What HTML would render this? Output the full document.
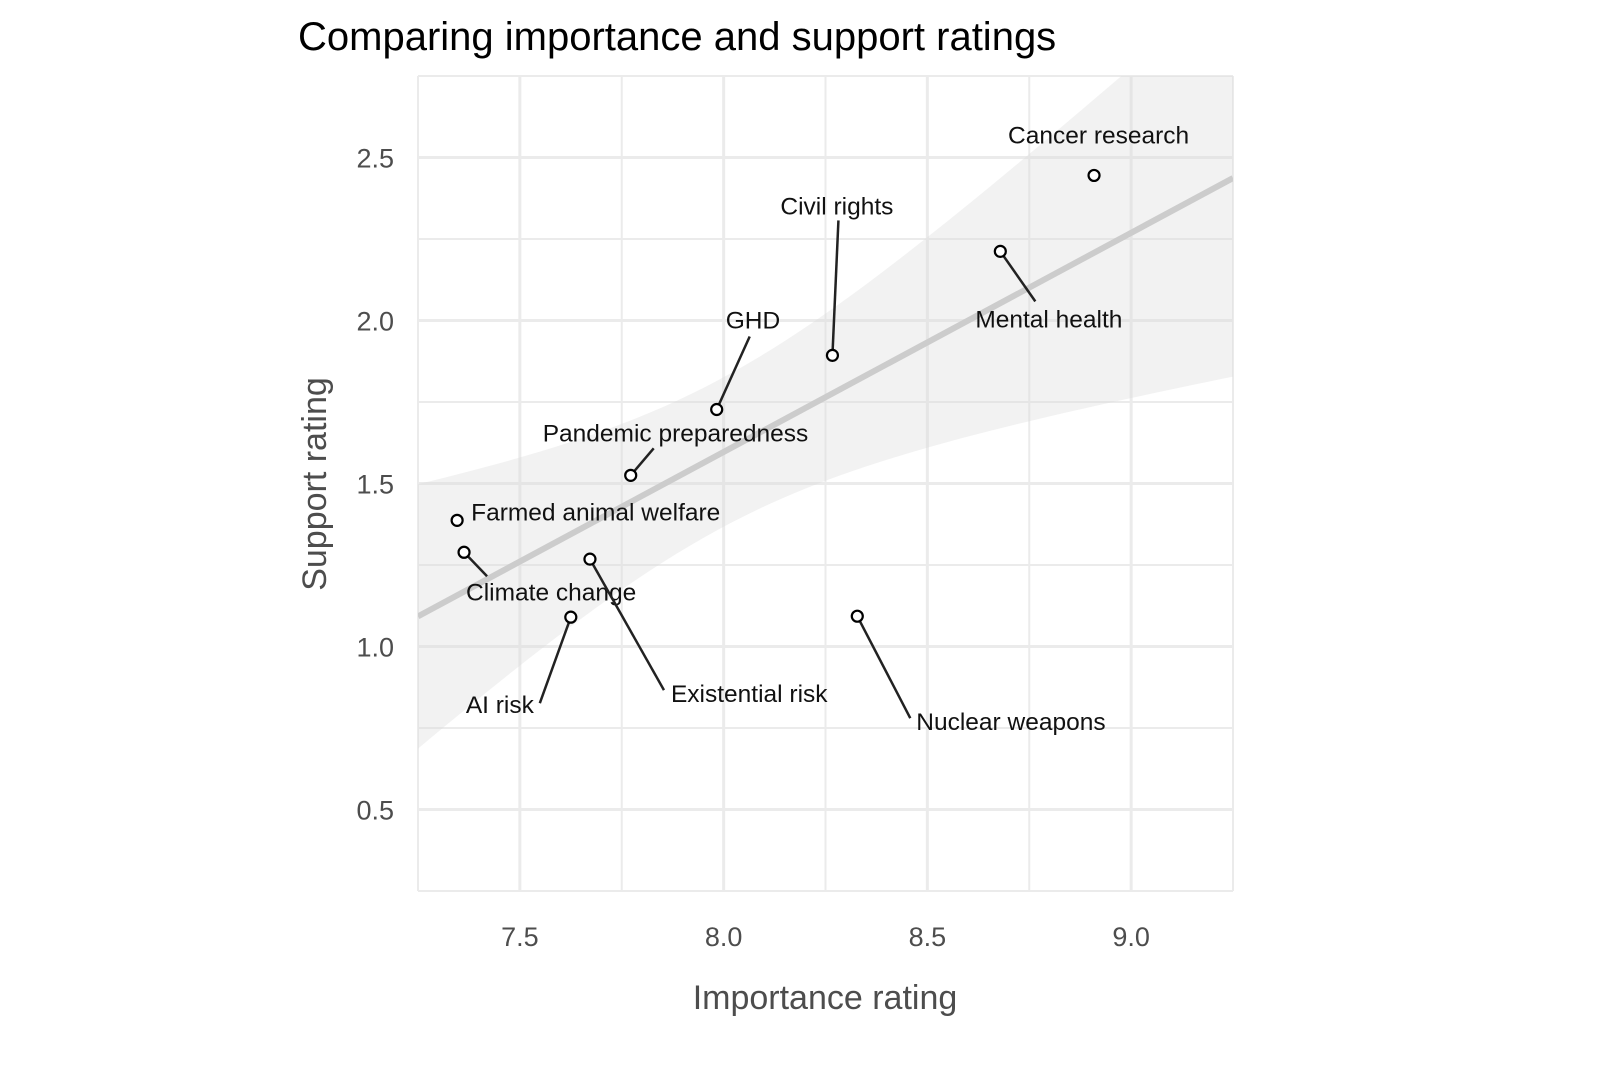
<!DOCTYPE html>
<html><head><meta charset="utf-8"><style>
body{margin:0;background:#fff;}
svg{display:block;font-family:"Liberation Sans",sans-serif;}
</style></head><body>
<svg id="chart" width="1600" height="1066">
<text x="298" y="50" font-size="40" fill="#000">Comparing importance and support ratings</text>
<text x="825" y="1009" font-size="34" fill="#4d4d4d" text-anchor="middle">Importance rating</text>
<text transform="translate(326,484) rotate(-90)" font-size="34" fill="#4d4d4d" text-anchor="middle">Support rating</text>
<g id="grid"></g><g id="band"></g><g id="marks"></g><g id="ticks"></g>
</svg>
<script>
const categories=["Cancer research","Mental health","Civil rights","GHD","Pandemic preparedness","Farmed animal welfare","Climate change","Existential risk","AI risk","Nuclear weapons"];
const importance=[8.909,8.679,8.267,7.983,7.772,7.346,7.363,7.672,7.625,8.328];
const support=[2.445,2.212,1.893,1.727,1.525,1.387,1.289,1.268,1.090,1.093];
const xTicks=[7.5,8.0,8.5,9.0];
const yTicks=[0.5,1.0,1.5,2.0,2.5];
const xTickLabels=["7.5","8.0","8.5","9.0"];
const yTickLabels=["0.5","1.0","1.5","2.0","2.5"];
// label placement offsets (styling, px): [dx text, dy baseline, leader dx, leader dy or null]
const labelOff=[[-86,-32,null,null],[-25,76,35,50],[-52,-141,6,-135],[9,-81,33,-73],[-88,-34,23,-27],[14,0,null,null],[2,48,23,24],[81,143,74,131],[-105,96,-31,86],[59,114,53,102]];
const X0=418,X1=1233,Y0=891,Y1=76,xmin=7.25,xmax=9.25,ymin=0.25,ymax=2.75;
const sx=v=>X0+(v-xmin)/(xmax-xmin)*(X1-X0);
const sy=v=>Y0-(v-ymin)/(ymax-ymin)*(Y0-Y1);
const NS="http://www.w3.org/2000/svg";
function mk(t,p,a){const e=document.createElementNS(NS,t);for(const k in a)e.setAttribute(k,a[k]);p.appendChild(e);return e;}
const grid=document.getElementById('grid'),band=document.getElementById('band'),marks=document.getElementById('marks'),ticks=document.getElementById('ticks');
const bg=mk('rect',grid,{x:X0,y:Y1,width:X1-X0,height:Y0-Y1,fill:'#fff'});


for(let v=xmin;v<=xmax+1e-9;v+=0.25){const major=xTicks.some(t=>Math.abs(t-v)<1e-9);
const l=mk('line',grid,{x1:sx(v),x2:sx(v),y1:Y1,y2:Y0,stroke:'#ebebeb','stroke-width':major?3:2});

}
for(let v=ymin;v<=ymax+1e-9;v+=0.25){const major=yTicks.some(t=>Math.abs(t-v)<1e-9);
const l=mk('line',grid,{x1:X0,x2:X1,y1:sy(v),y2:sy(v),stroke:'#ebebeb','stroke-width':major?3:2});

}
// regression
const n=importance.length,mx=importance.reduce((a,b)=>a+b)/n,my=support.reduce((a,b)=>a+b)/n;
let sxx=0,sxy=0;for(let i=0;i<n;i++){sxx+=(importance[i]-mx)**2;sxy+=(importance[i]-mx)*(support[i]-my);}
const b=sxy/sxx,a=my-b*mx;let sse=0;for(let i=0;i<n;i++)sse+=(support[i]-a-b*importance[i])**2;
const s=Math.sqrt(sse/(n-2)),t=2.306;
const hw=x=>t*s*Math.sqrt(1/n+(x-mx)**2/sxx);
let up=[],lo=[];for(let k=0;k<=60;k++){const x=xmin+(xmax-xmin)*k/60;const y=a+b*x;up.push([sx(x),sy(y+hw(x))]);lo.push([sx(x),sy(y-hw(x))]);}
const cp=mk('clipPath',band,{id:'clp'});
mk('rect',cp,{x:X0,y:Y1,width:X1-X0,height:Y0-Y1});
const pts=up.concat(lo.reverse()).map(p=>p.join(',')).join(' ');
const bp=mk('polygon',band,{points:pts,fill:'#d9d9d9','fill-opacity':0.35,'clip-path':'url(#clp)'});


const rl=mk('line',band,{x1:sx(xmin),y1:sy(a+b*xmin),x2:sx(xmax),y2:sy(a+b*xmax),stroke:'#cccccc','stroke-width':6,'clip-path':'url(#clp)'});


for(let i=0;i<n;i++){const px=sx(importance[i]),py=sy(support[i]),o=labelOff[i];
if(o[2]!==null){const ld=mk('line',marks,{x1:px,y1:py,x2:px+o[2],y2:py+o[3],stroke:'#222','stroke-width':2.5});

}
const c=mk('circle',marks,{cx:px,cy:py,r:5.5,fill:'#fff',stroke:'#000','stroke-width':2.2});


const tx=mk('text',marks,{x:px+o[0],y:py+o[1],'font-size':24.5,fill:'#111'});tx.textContent=categories[i];

}
xTicks.forEach((v,i)=>{const e=mk('text',ticks,{x:sx(v),y:946,'font-size':27,fill:'#4d4d4d','text-anchor':'middle'});e.textContent=xTickLabels[i];

});
yTicks.forEach((v,i)=>{const e=mk('text',ticks,{x:394,y:sy(v)+10,'font-size':27,fill:'#4d4d4d','text-anchor':'end'});e.textContent=yTickLabels[i];

});
</script>
</body></html>
